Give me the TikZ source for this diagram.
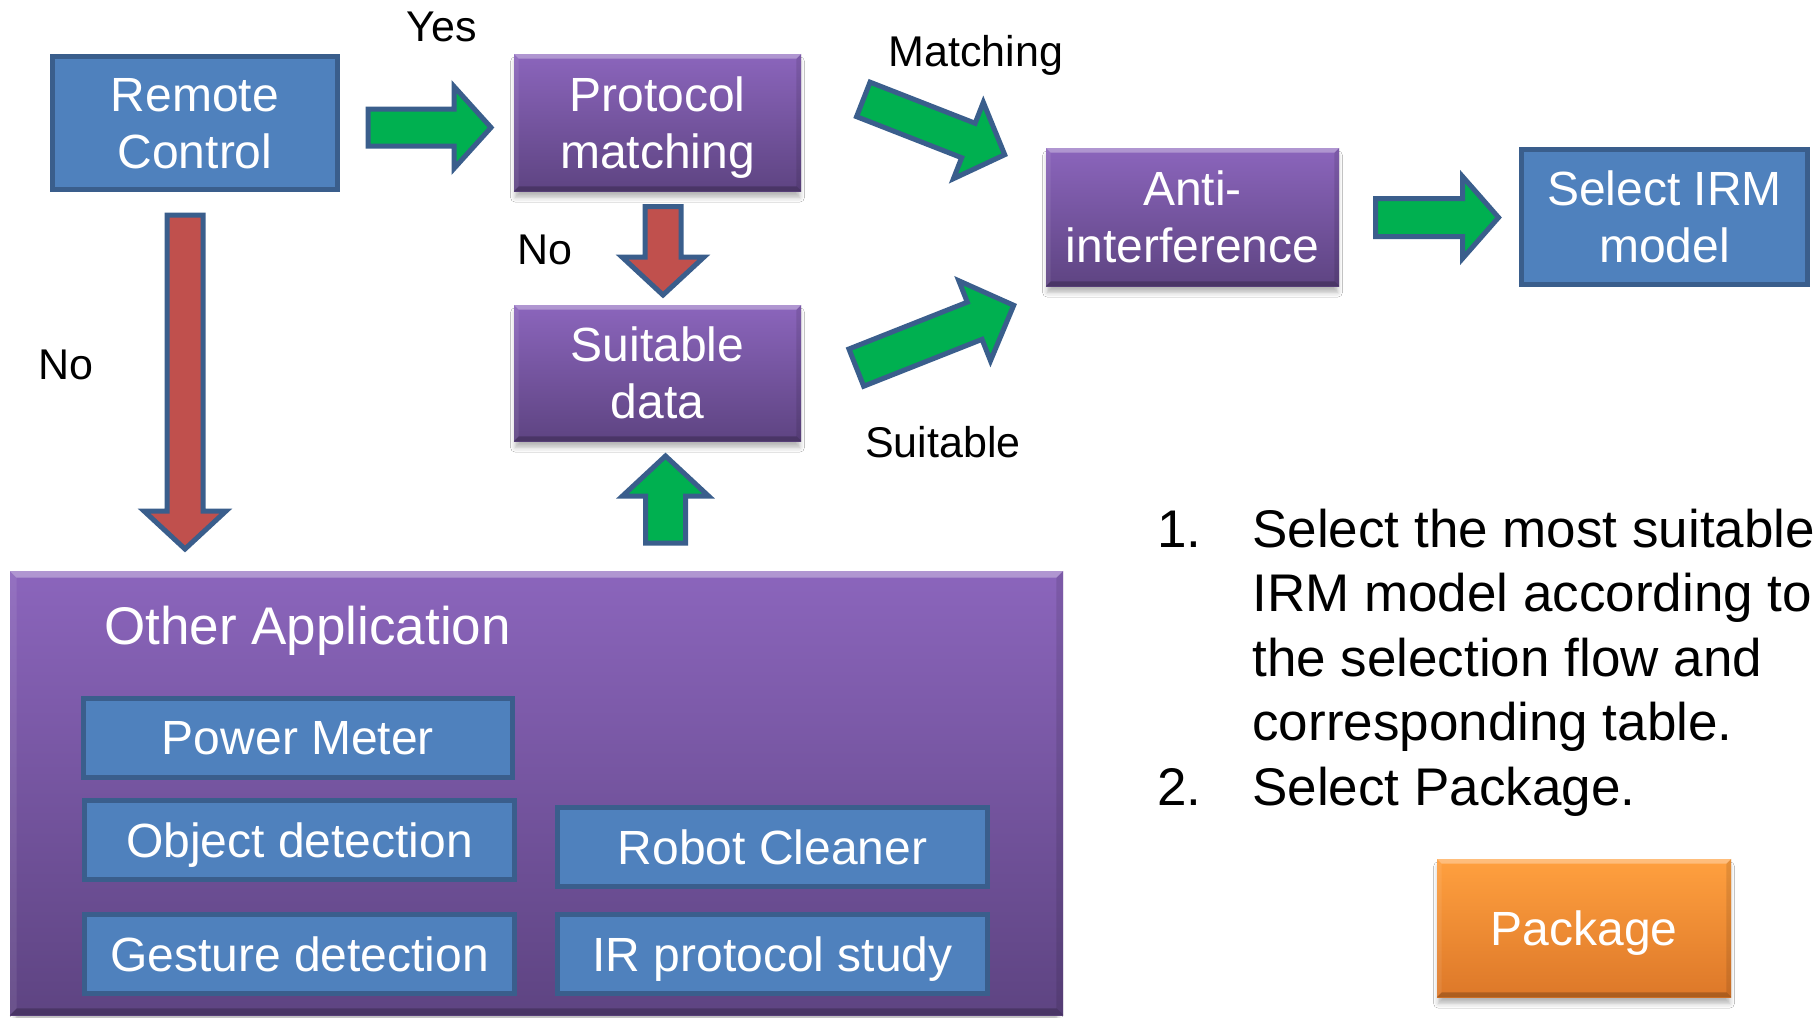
\documentclass[tikz,border=0pt]{standalone}
\usepackage{fontspec}
\setmainfont{Liberation Sans}
\usetikzlibrary{calc,shadows.blur}

\definecolor{boxblue}{HTML}{4F81BD}
\definecolor{edgeblue}{HTML}{3A5E8C}
\definecolor{arrowgreen}{HTML}{00B050}
\definecolor{arrowred}{HTML}{C0504D}
\definecolor{violettop}{HTML}{8B65BC}
\definecolor{violetbot}{HTML}{5E4482}
\definecolor{orangetop}{HTML}{FFA03F}
\definecolor{orangebot}{HTML}{DD7829}

\newcommand\boxfont{\fontsize{24}{28.5}\selectfont}
\newcommand\labelfont{\fontsize{21.5}{25}\selectfont}
\newcommand\listfont{\fontsize{26.5}{32.25}\selectfont}
\newcommand\titlefont{\fontsize{26.5}{31}\selectfont}

\tikzset{
  bluebox/.style={draw=edgeblue, line width=2.5pt, fill=boxblue, text=white,
    font=\boxfont, align=center, text depth=0pt, inner sep=0pt},
  softshadow/.style={blur shadow={shadow xshift=0pt, shadow yshift=-3.5pt,
    shadow blur radius=2.5pt, shadow scale=0.99, shadow opacity=30}},
  violetbox/.style={top color=violettop, bottom color=violetbot, text=white,
    font=\boxfont, align=center, text depth=0pt, inner sep=0pt, softshadow},
  orangebox/.style={top color=orangetop, bottom color=orangebot, text=white,
    font=\boxfont, align=center, text depth=0pt, inner sep=0pt, softshadow},
  flowlabel/.style={font=\labelfont, anchor=base, inner sep=0pt},
  arrowline/.style={draw=edgeblue, line width=2.5pt, line join=miter},
}

% bevelled edges of a shaded box: light top, dark bottom
\newcommand\bevelbox[2]{%
  \fill[white,opacity=0.32] (#1.north west) -- (#1.north east)
    -- ($(#1.north east)+(-#2,#2)$) -- ($(#1.north west)+(#2,#2)$) -- cycle;
  \fill[white,opacity=0.08] (#1.north west) -- ($(#1.north west)+(#2,#2)$)
    -- ($(#1.south west)+(#2,-#2)$) -- (#1.south west) -- cycle;
  \fill[black,opacity=0.10] (#1.north east) -- ($(#1.north east)+(-#2,#2)$)
    -- ($(#1.south east)+(-#2,-#2)$) -- (#1.south east) -- cycle;
  \fill[black,opacity=0.22] (#1.south west) -- ($(#1.south west)+(#2,-#2)$)
    -- ($(#1.south east)+(-#2,-#2)$) -- (#1.south east) -- cycle;
}

% block arrow: tail, tip, shaft half width, head half width, head length, fill
\newcommand\blockarrow[6]{%
  \coordinate (#1-base) at ($(#2)!#5!(#1)$);
  \draw[arrowline, fill=#6]
    ($(#1)!#3!90:(#2)$) -- ($(#1-base)!#3!90:(#2)$)
    -- ($(#1-base)!#4!90:(#2)$) -- (#2)
    -- ($(#1-base)!#4!-90:(#2)$) -- ($(#1-base)!#3!-90:(#2)$)
    -- ($(#1)!#3!-90:(#2)$) -- cycle;
}

\begin{document}
\begin{tikzpicture}[x=0.5pt,y=-0.5pt]
  \useasboundingbox (0,0) rectangle (1818,1017);
  \fill[white] (0,0) rectangle (1818,1017);

  % application panel
  \node[violetbox, minimum width=526.5pt, minimum height=222pt] (apps) at (536.5,793) {};
  \bevelbox{apps}{7}
  \node[anchor=base west, inner sep=0pt, font=\titlefont, text=white] (appstitle) at (104,644) {Other Application};

  \node[bluebox, minimum width=214.5pt, minimum height=39.5pt] (power) at (298,738) {Power Meter};
  \node[bluebox, minimum width=215pt, minimum height=39.5pt] (object) at (299.5,840) {Object detection};
  \node[bluebox, minimum width=215pt, minimum height=39.5pt] (gesture) at (299.5,954) {Gesture detection};
  \node[bluebox, minimum width=215pt, minimum height=39.5pt] (robot) at (772.5,847) {Robot Cleaner};
  \node[bluebox, minimum width=215pt, minimum height=39.5pt] (irstudy) at (772.5,954) {IR protocol study};

  % flow boxes
  \node[bluebox, minimum width=142.5pt, minimum height=66.5pt] (remote) at (195,123) {Remote\\Control};
  \node[violetbox, minimum width=143.5pt, minimum height=68.5pt] (protocol) at (657.5,122.5) {Protocol\\matching};
  \bevelbox{protocol}{5}
  \node[violetbox, minimum width=143.5pt, minimum height=68pt] (suitdata) at (657.5,373) {Suitable\\data};
  \bevelbox{suitdata}{5}
  \node[violetbox, minimum width=146.5pt, minimum height=69pt] (anti) at (1192.5,217) {Anti-\\interference};
  \bevelbox{anti}{5}
  \node[bluebox, minimum width=143pt, minimum height=67.5pt] (irm) at (1664.5,217) {Select IRM\\model};
  \node[orangebox, minimum width=147pt, minimum height=69pt] (package) at (1584,928) {Package};
  \bevelbox{package}{5}

  % arrow end points
  \coordinate (yesT) at (368,127.5);     \coordinate (yesH) at (491,127.5);
  \coordinate (noT) at (663,206.5);      \coordinate (noH) at (663,295);
  \coordinate (upT) at (665.5,543);      \coordinate (upH) at (665.5,456);
  \coordinate (leftT) at (185,215);      \coordinate (leftH) at (185,549);
  \coordinate (matchT) at (863.3,99.4);  \coordinate (matchH) at (1004.7,154.7);
  \coordinate (suitT) at (856.3,367.6);  \coordinate (suitH) at (1013.7,305.3);
  \coordinate (irmT) at (1375.5,217.5);  \coordinate (irmH) at (1498.5,217.5);

  \blockarrow{yesT}{yesH}{9.25pt}{20.5pt}{18.5pt}{arrowgreen}
  \blockarrow{noT}{noH}{9pt}{20.5pt}{19pt}{arrowred}
  \blockarrow{upT}{upH}{10pt}{21.5pt}{20pt}{arrowgreen}
  \blockarrow{leftT}{leftH}{9pt}{20.5pt}{19pt}{arrowred}
  \blockarrow{matchT}{matchH}{9.25pt}{20.5pt}{19.5pt}{arrowgreen}
  \blockarrow{suitT}{suitH}{10pt}{21.5pt}{21pt}{arrowgreen}
  \blockarrow{irmT}{irmH}{9.5pt}{20.5pt}{18pt}{arrowgreen}

  % arrow labels
  \node[flowlabel] (lblyes) at (442,41) {Yes};
  \node[flowlabel] (lblnomid) at (545,264) {No};
  \node[flowlabel] (lblnoleft) at (66,379) {No};
  \node[flowlabel] (lblmatch) at (976,66) {Matching};
  \node[flowlabel] (lblsuit) at (943,457) {Suitable};

  % selection steps
  \node[anchor=base west, inner sep=0pt, font=\listfont] (steps) at (1157,547)
    {\begin{tabular}[t]{@{}p{47.5pt}@{}l@{}}
      1. & Select the most suitable\\
         & IRM model according to\\
         & the selection flow and\\
         & corresponding table.\\
      2. & Select Package.
    \end{tabular}};
\end{tikzpicture}
\end{document}
